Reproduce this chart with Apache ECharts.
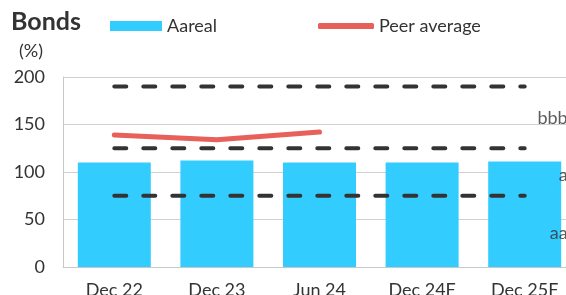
<!DOCTYPE html>
<html>
<head>
<meta charset="utf-8">
<script src="https://cdn.jsdelivr.net/npm/echarts@6/dist/echarts.min.js"></script>
<style>
  html, body { margin: 0; padding: 0; background: #fff; }
  #chart { width: 566px; height: 295px; }
</style>
</head>
<body>
<div id="chart"></div>
<script>
// categories and values
var categories = ["Dec 22", "Dec 23", "Jun 24", "Dec 24F", "Dec 25F"];
var aareal = [110, 112, 110, 110, 111];
var peerAverage = [139, 134, 142, null, null];
// rating thresholds (dashed lines)
var bbbLine = [190, 190, 190, 190, 190];
var aLine = [125, 125, 125, 125, 125];
var aaLine = [75, 75, 75, 75, 75];
// rating band labels on the right
var ratingLabels = ["bbb", "a", "aa"];
var ratingLabelValues = [157, 97, 36];
var yTicks = { min: 0, max: 200, interval: 50 };

var font = "Lato";
var textColor = "#333";

function dashedSeries(name, data) {
  return {
    name: name,
    type: "line",
    data: data,
    symbol: "none",
    silent: true,
    lineStyle: { color: "#333", width: 4, type: [12, 17], cap: "round" },
    z: 3
  };
}

var chart = echarts.init(document.getElementById("chart"), null, { renderer: "canvas" });
chart.setOption({
  animation: false,
  textStyle: { fontFamily: font },
  title: {
    text: "Bonds",
    left: 11,
    top: 9,
    padding: 0,
    textStyle: { fontFamily: font, fontSize: 25, fontWeight: "bold", color: textColor }
  },
  legend: [
    {
      data: ["Aareal"],
      left: 110,
      top: 17,
      padding: 0,
      itemWidth: 52,
      itemHeight: 10,
      itemGap: 0,
      icon: "rect",
      textStyle: { fontFamily: font, fontSize: 18, color: textColor }
    },
    {
      data: ["Peer average"],
      left: 318,
      top: 17,
      padding: 0,
      itemWidth: 56,
      itemHeight: 6,
      icon: "roundRect",
      textStyle: { fontFamily: font, fontSize: 18, color: textColor }
    }
  ],
  grid: { left: 63, right: -10, top: 77, bottom: 28, outerBoundsMode: "none", containLabel: false },
  xAxis: {
    type: "category",
    data: categories,
    axisLine: { lineStyle: { color: "#c8c8c8", width: 1 } },
    axisTick: { show: false },
    axisLabel: { fontFamily: font, fontSize: 18, color: textColor, margin: 14 }
  },
  yAxis: {
    type: "value",
    min: yTicks.min,
    max: yTicks.max,
    interval: yTicks.interval,
    name: "(%)",
    nameLocation: "end",
    nameGap: 17,
    nameTextStyle: { fontFamily: font, fontSize: 18, color: textColor, align: "right", padding: [0, 20, 0, 0] },
    axisLine: { show: true, lineStyle: { color: "#c8c8c8", width: 1 } },
    axisTick: { show: false },
    splitLine: { lineStyle: { color: "#d0d0d0", width: 1 } },
    axisLabel: { fontFamily: font, fontSize: 18, color: textColor, margin: 18 }
  },
  series: [
    {
      name: "Aareal",
      type: "bar",
      data: aareal,
      barWidth: 73,
      itemStyle: { color: "#33ccff" },
      z: 2
    },
    dashedSeries("bbb", bbbLine),
    dashedSeries("a", aLine),
    dashedSeries("aa", aaLine),
    {
      name: "Peer average",
      type: "line",
      data: peerAverage,
      symbol: "none",
      lineStyle: { color: "#e8605a", width: 5, cap: "round" },
      itemStyle: { color: "#e8605a" },
      z: 4
    },
    {
      name: "ratings",
      type: "scatter",
      symbolSize: 0,
      silent: true,
      data: ratingLabels.map(function (r, i) {
        return { name: r, value: [categories[4], ratingLabelValues[i]] };
      }),
      label: {
        show: true,
        formatter: "{b}",
        position: "inside",
        align: "right",
        verticalAlign: "middle",
        offset: [43, 0],
        fontFamily: font,
        fontSize: 18,
        color: textColor
      }
    }
  ]
});
</script>
</body>
</html>
